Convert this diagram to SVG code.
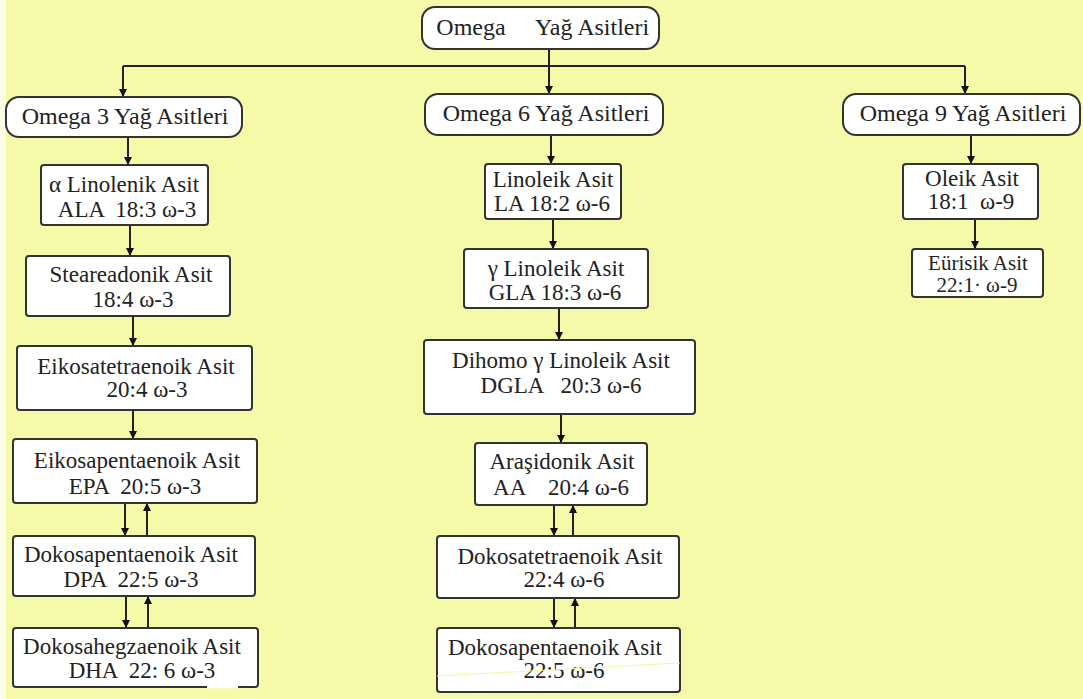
<svg xmlns="http://www.w3.org/2000/svg" width="1083" height="699" viewBox="0 0 1083 699">
<style>
.bg{fill:#f5faa9}
.hdr{fill:#fff;stroke:#333;stroke-width:2}
.box{fill:#fff;stroke:#333;stroke-width:2}
.t{font-family:"Liberation Serif","Times New Roman",serif;font-size:23px;fill:#222;text-anchor:middle;white-space:pre}
.ts{font-family:"Liberation Serif","Times New Roman",serif;font-size:21px;fill:#222;text-anchor:middle;white-space:pre}
.th{font-family:"Liberation Serif","Times New Roman",serif;font-size:24px;fill:#222;text-anchor:middle;white-space:pre}
.c{stroke:#222;stroke-width:2;fill:none}
.ca{stroke:#222;stroke-width:2;fill:none;marker-end:url(#ah)}
</style>
<defs>
<marker id="ah" viewBox="0 0 10 10" refX="10" refY="5" markerWidth="10" markerHeight="8" markerUnits="userSpaceOnUse" orient="auto">
<path d="M0,0 L10,5 L0,10 z" fill="#111"/>
</marker>
</defs>
<rect class="bg" x="0" y="0" width="1083" height="699"/>
<rect x="0" y="0" width="6" height="699" fill="#fbfde6"/>

<g id="connectors">
<line class="c" x1="549" y1="49" x2="549" y2="66"/>
<line class="c" x1="123" y1="66" x2="965" y2="66"/>
<line class="ca" x1="123" y1="66" x2="123" y2="97"/>
<line class="ca" x1="549" y1="66" x2="549" y2="94"/>
<line class="ca" x1="965" y1="66" x2="965" y2="94"/>
<line class="ca" x1="128" y1="137" x2="128" y2="165"/>
<line class="ca" x1="130" y1="225" x2="130" y2="256"/>
<line class="ca" x1="133" y1="316" x2="133" y2="346"/>
<line class="ca" x1="133" y1="410" x2="133" y2="439"/>
<line class="ca" x1="125" y1="503" x2="125" y2="536"/>
<line class="ca" x1="147" y1="536" x2="147" y2="503"/>
<line class="ca" x1="126" y1="596" x2="126" y2="628"/>
<line class="ca" x1="148" y1="628" x2="148" y2="596"/>
<line class="ca" x1="551" y1="135" x2="551" y2="164"/>
<line class="ca" x1="553" y1="219" x2="553" y2="249"/>
<line class="ca" x1="559" y1="308" x2="559" y2="340"/>
<line class="ca" x1="561" y1="414" x2="561" y2="443"/>
<line class="ca" x1="554" y1="505" x2="554" y2="536"/>
<line class="ca" x1="573" y1="536" x2="573" y2="505"/>
<line class="ca" x1="554" y1="598" x2="554" y2="628"/>
<line class="ca" x1="575" y1="628" x2="575" y2="598"/>
<line class="ca" x1="971" y1="135" x2="971" y2="164"/>
<line class="ca" x1="975" y1="219" x2="975" y2="249"/>
</g>

<g id="root">
<rect class="hdr" x="422" y="7" width="237" height="42" rx="13"/>
<text class="th" x="471" y="35">Omega</text>
<text class="th" x="592" y="35">Yağ Asitleri</text>
</g>
<g id="omega3">
<rect class="hdr" x="6" y="97" width="236" height="40" rx="13"/>
<text class="th" x="125" y="124">Omega 3 Yağ Asitleri</text>
</g>
<g id="omega6">
<rect class="hdr" x="425" y="94" width="238" height="41" rx="13"/>
<text class="th" x="546" y="121">Omega 6 Yağ Asitleri</text>
</g>
<g id="omega9">
<rect class="hdr" x="843" y="94" width="237" height="41" rx="13"/>
<text class="th" x="963" y="121">Omega 9 Yağ Asitleri</text>
</g>

<g id="ala">
<rect class="box" x="41" y="165" width="167" height="60" rx="3"/>
<text class="t" x="124" y="192">α Linolenik Asit</text>
<text class="t" x="127" y="217">ALA  18:3 ω-3</text>
</g>
<g id="stea">
<rect class="box" x="26" y="256" width="204" height="60" rx="3"/>
<text class="t" x="131" y="282">Steareadonik Asit</text>
<text class="t" x="133" y="307">18:4 ω-3</text>
</g>
<g id="eikosatetra">
<rect class="box" x="17" y="346" width="235" height="64" rx="3"/>
<text class="t" x="136" y="374">Eikosatetraenoik Asit</text>
<text class="t" x="147" y="397">20:4 ω-3</text>
</g>
<g id="epa">
<rect class="box" x="13" y="439" width="244" height="64" rx="3"/>
<text class="t" x="137" y="468">Eikosapentaenoik Asit</text>
<text class="t" x="135" y="494">EPA  20:5 ω-3</text>
</g>
<g id="dpa">
<rect class="box" x="13" y="536" width="242" height="60" rx="3"/>
<text class="t" x="131" y="562">Dokosapentaenoik Asit</text>
<text class="t" x="131" y="587">DPA  22:5 ω-3</text>
</g>
<g id="dha">
<rect class="box" x="13" y="628" width="245" height="59" rx="3"/>
<text class="t" x="132" y="654">Dokosahegzaenoik Asit</text>
<text class="t" x="142" y="678">DHA  22: 6 ω-3</text>
<line x1="207" y1="687" x2="238" y2="687" stroke="#fff" stroke-width="2.5"/>
</g>

<g id="la">
<rect class="box" x="485" y="164" width="136" height="55" rx="3"/>
<text class="t" x="553" y="187">Linoleik Asit</text>
<text class="t" x="552" y="211">LA 18:2 ω-6</text>
</g>
<g id="gla">
<rect class="box" x="464" y="249" width="184" height="59" rx="3"/>
<text class="t" x="556" y="276">γ Linoleik Asit</text>
<text class="t" x="555" y="300">GLA 18:3 ω-6</text>
</g>
<g id="dgla">
<rect class="box" x="424" y="340" width="271" height="74" rx="3"/>
<text class="t" x="561" y="368">Dihomo γ Linoleik Asit</text>
<text class="t" x="561" y="393">DGLA   20:3 ω-6</text>
</g>
<g id="aa">
<rect class="box" x="475" y="443" width="172" height="62" rx="3"/>
<text class="t" x="562" y="469">Araşidonik Asit</text>
<text class="t" x="561" y="495">AA    20:4 ω-6</text>
</g>
<g id="dokosatetra">
<rect class="box" x="437" y="536" width="242" height="62" rx="3"/>
<text class="t" x="560" y="564">Dokosatetraenoik Asit</text>
<text class="t" x="564" y="587">22:4 ω-6</text>
</g>
<g id="dokosapenta6">
<rect class="box" x="437" y="628" width="243" height="64" rx="3"/>
<text class="t" x="555" y="655">Dokosapentaenoik Asit</text>
<text class="t" x="564" y="678">22:5 ω-6</text>
<line x1="437" y1="676" x2="680" y2="663" stroke="#f0f7a0" stroke-width="1"/>
</g>

<g id="oleik">
<rect class="box" x="903" y="164" width="135" height="55" rx="3"/>
<text class="t" x="972" y="186">Oleik Asit</text>
<text class="t" x="971" y="209">18:1  ω-9</text>
</g>
<g id="eurisik">
<rect class="box" x="912" y="249" width="131" height="48" rx="3"/>
<text class="ts" x="978" y="270">Eürisik Asit</text>
<text class="ts" x="977" y="292">22:1· ω-9</text>
</g>
</svg>
